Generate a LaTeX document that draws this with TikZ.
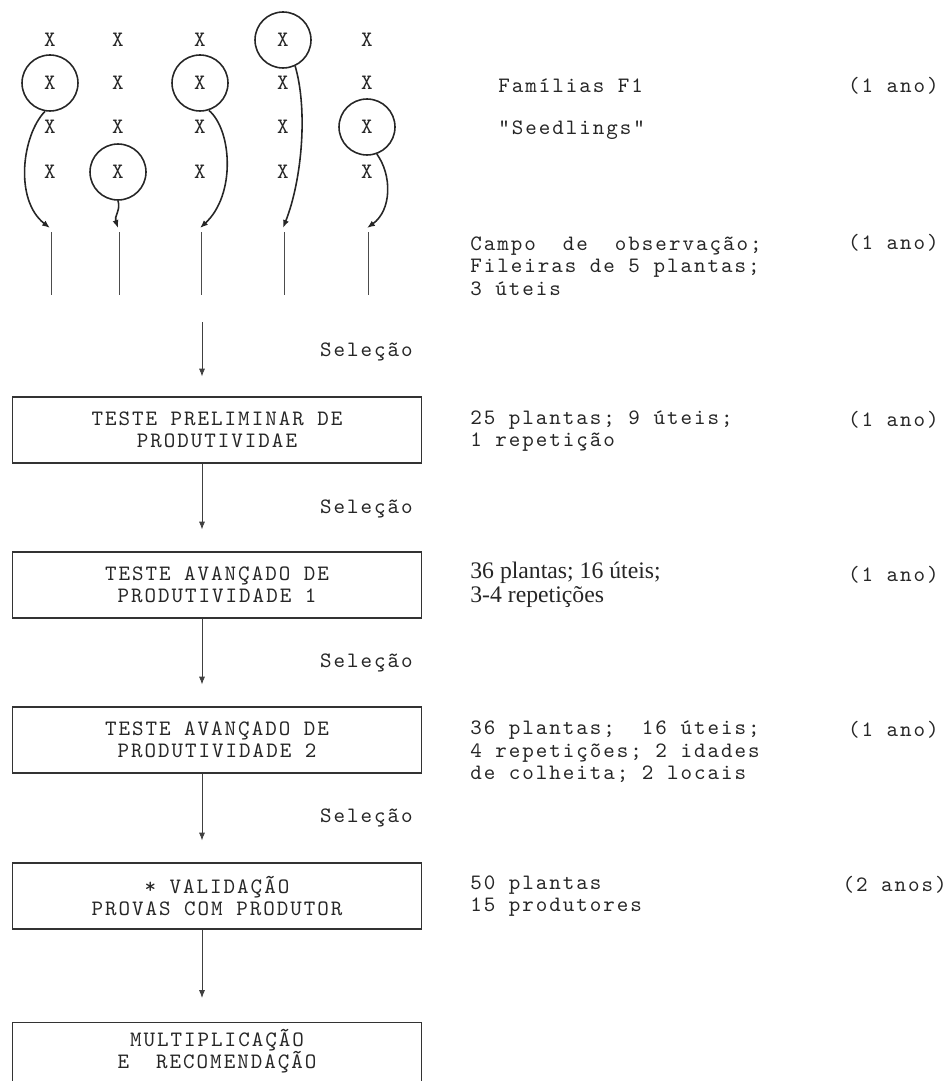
\documentclass[tikz,border=0pt]{standalone}
\usepackage{fontspec}
\setmainfont{Liberation Serif}
\setmonofont[LetterSpace=9]{lmmono10-regular.otf}
\newfontfamily\timesfont{Liberation Serif}
\usetikzlibrary{arrows.meta,positioning}

\begin{document}
\begin{tikzpicture}[x=0.02cm, y=-0.02cm,
  every node/.style={font=\ttfamily\fontsize{12.5}{12.8}\selectfont, text=black!85, inner sep=0pt},
  chosen/.style={circle, draw=black!85, line width=0.9pt, minimum size=1.12cm},
  stepbox/.style={draw=black!80, line width=0.6pt, minimum width=8.2cm, minimum height=1.32cm, align=center},
  info/.style={anchor=west, align=left},
  ano/.style={anchor=east},
  arr/.style={-{Latex[length=4.5pt,width=3.5pt]}, line width=0.5pt, black!75},
  pick/.style={arr, line width=0.9pt, black!85}]
  \useasboundingbox (0,0) rectangle (950,1081);

  % plants of the F1 families
  \foreach \c/\cx in {1/50,2/118,3/200,4/283,5/367}{
    \foreach \r/\ry in {1/40,2/83,3/127,4/172}
      \node (p\c\r) at (\cx,\ry) {X};
    \coordinate (e\c) at (\cx,228);
    \coordinate (t\c) at (\cx+1,232);
    \coordinate (b\c) at (\cx+1,295);
    \draw[line width=0.5pt, black!70] (t\c) -- (b\c);
  }
  \node[chosen] (c1) at (p12) {};
  \node[chosen] (c2) at (p24) {};
  \node[chosen] (c3) at (p32) {};
  \node[chosen] (c4) at (p41) {};
  \node[chosen] (c5) at (p53) {};
  \draw[pick] (c1.-100) .. controls (22,135) and (14,200) .. (e1);
  \draw[pick] (c2.-90) .. controls (121,210) and (114,216) .. (e2);
  \draw[pick] (c3.-72) .. controls (232,130) and (236,195) .. (e3);
  \draw[pick] (c4.-65) .. controls (308,110) and (302,180) .. (e4);
  \draw[pick] (c5.-70) .. controls (392,175) and (392,210) .. (e5);

  % stages
  \node[stepbox] (tp) at (217,430) {TESTE PRELIMINAR DE\\PRODUTIVIDAE};
  \node[stepbox] (ta1) at (217,585) {TESTE AVANÇADO DE\\PRODUTIVIDADE 1};
  \node[stepbox] (ta2) at (217,740) {TESTE AVANÇADO DE\\PRODUTIVIDADE 2};
  \node[stepbox] (val) at (217,896) {* VALIDAÇÃO\\PROVAS COM PRODUTOR};
  \node[stepbox, minimum height=2cm, anchor=north] (mult) at (217,1022) {};
  \node[align=center] (mtxt) at (217,1051) {MULTIPLICAÇÃO\\E\ \ RECOMENDAÇÃO};

  \coordinate (ax) at (202,322);
  \draw[arr, shorten >=0.4cm] (ax) -- (ax |- tp.north);
  \draw[arr, shorten >=0.44cm] (tp.south -| ax) -- (ta1.north -| ax);
  \draw[arr, shorten >=0.44cm] (ta1.south -| ax) -- (ta2.north -| ax);
  \draw[arr, shorten >=0.44cm] (ta2.south -| ax) -- (val.north -| ax);
  \draw[arr, shorten >=0.48cm] (val.south -| ax) -- (mult.north -| ax);

  \node[anchor=east] (s1) at (413,352) {Seleção};
  \node[anchor=east] (s2) at (413,509) {Seleção};
  \node[anchor=east] (s3) at (413,663) {Seleção};
  \node[anchor=east] (s4) at (413,818) {Seleção};

  % notes on the right
  \node[info] (fam) at (498,86) {Famílias F1};
  \node[info] (seed) at (498,130) {"Seedlings"};
  \node[info] (campo) at (470,266) {Campo\ \ de\ \ observação;\\Fileiras de 5 plantas;\\3 úteis};
  \node[info] (n1) at (470,431) {25 plantas; 9 úteis;\\1 repetição};
  \node[info, font=\timesfont\fontsize{13.5}{13.5}\selectfont] (n2) at (470,585) {36 plantas; 16 úteis;\\3-4 repetições};
  \node[info] (n3) at (470,752) {36 plantas;\ \ 16 úteis;\\4 repetições; 2 idades\\de colheita; 2 locais};
  \node[info] (n4) at (470,896) {50 plantas\\15 produtores};

  \node[ano] (y0) at (939,86) {(1 ano)};
  \node[ano] (y1) at (939,243) {(1 ano)};
  \node[ano] (y2) at (939,420) {(1 ano)};
  \node[ano] (y3) at (939,575) {(1 ano)};
  \node[ano] (y4) at (939,730) {(1 ano)};
  \node[ano] (y5) at (947,885) {(2 anos)};
\end{tikzpicture}
\end{document}
